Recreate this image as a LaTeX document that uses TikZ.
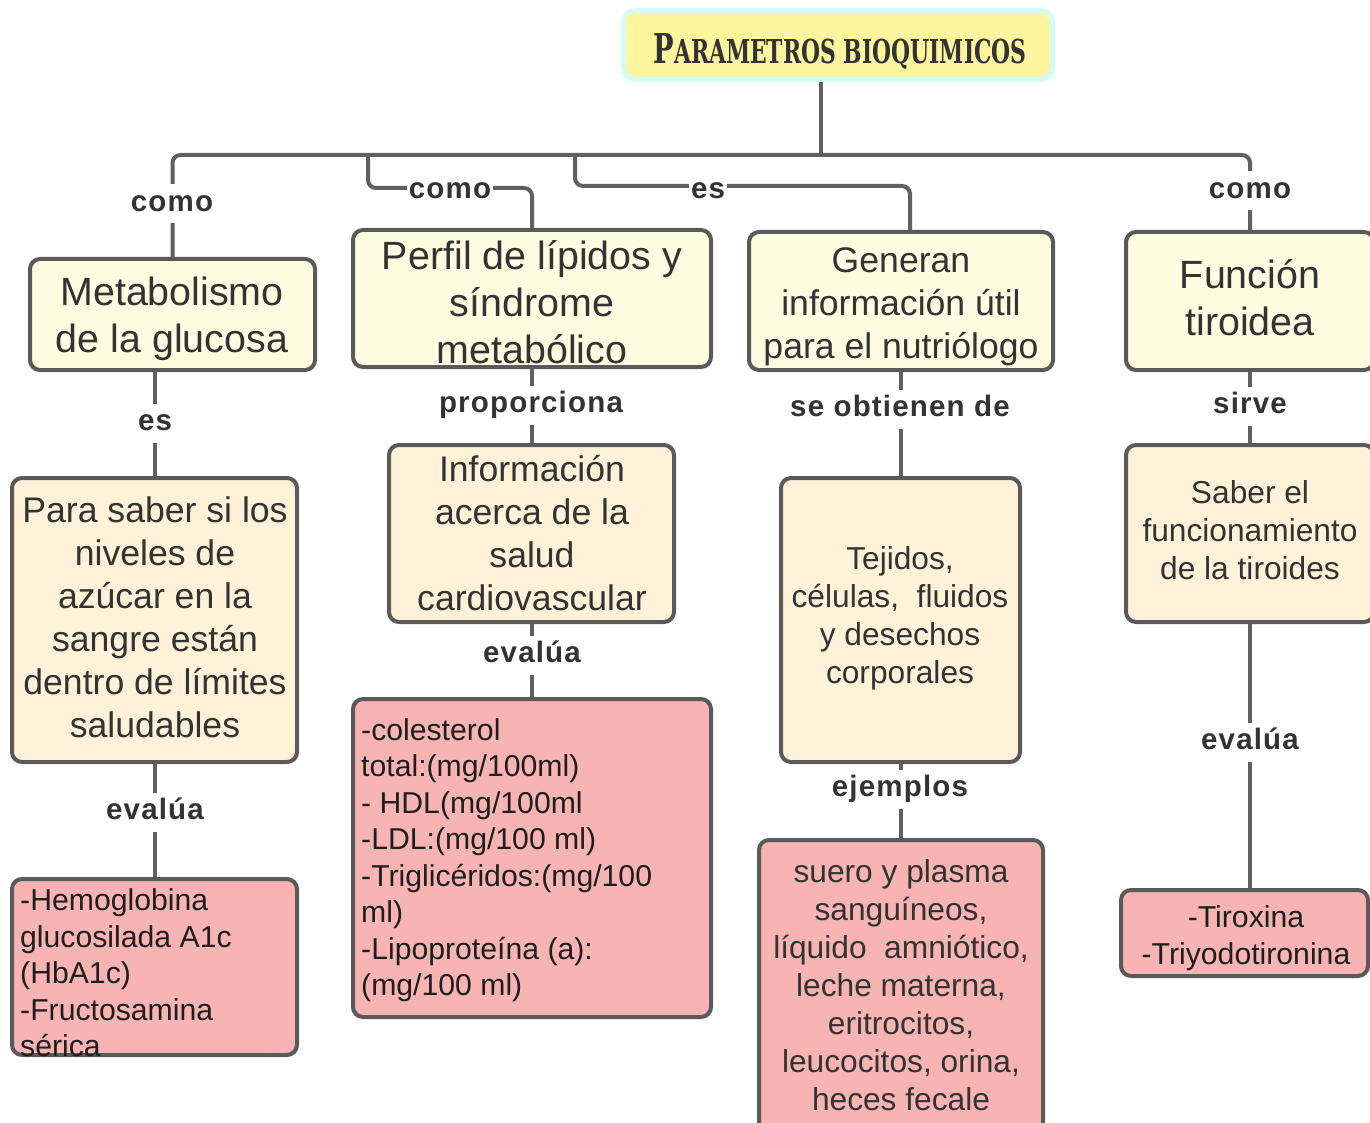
\documentclass[tikz,border=0pt]{standalone}
\usepackage{fontspec}
\usepackage{graphicx}
\setmainfont{Liberation Sans}
\newfontfamily\lblfont[LetterSpace=4]{Liberation Sans}
\newfontfamily\titlefont{DejaVu Serif}
\usetikzlibrary{calc}
\pgfdeclarelayer{bg}
\pgfsetlayers{bg,main}
\definecolor{bordc}{HTML}{5A5A5A}
\definecolor{connc}{HTML}{606060}
\definecolor{textc}{HTML}{333333}
\definecolor{pinktext}{HTML}{1E1E1E}
\definecolor{yel}{HTML}{FDFDE1}
\definecolor{cream}{HTML}{FFF2D8}
\definecolor{pink}{HTML}{F8B3B3}
\definecolor{ttlfill}{HTML}{FFF59E}
\definecolor{ttlbord}{HTML}{D5FBF4}
\newcommand\myfbig{\fontsize{39.4}{47}\selectfont}
\newcommand\myfmed{\fontsize{35.6}{43}\selectfont}
\newcommand\myfsm{\fontsize{31.7}{38}\selectfont}
\newcommand\myfpk{\fontsize{30.2}{36.5}\selectfont}
\tikzset{
  box/.style={draw=bordc, line width=4pt, rounded corners=10pt, inner sep=0pt},
  conn/.style={draw=connc, line width=4pt},
  txt/.style={align=center, inner sep=0pt, text=textc},
  ptxt/.style={align=left, inner sep=0pt, text=pinktext, anchor=west},
  lbl/.style={font=\lblfont\bfseries\fontsize{29.5}{29.5}\selectfont, text=textc, fill=white,
    text height=21pt, text depth=6pt, inner xsep=2pt, inner ysep=6pt}
}
\begin{document}
\begin{tikzpicture}[x=1pt,y=-1pt]
\useasboundingbox (0,0) rectangle (1370,1123);
\clip (0,0) rectangle (1370,1123);
% boxes
\node[box, draw=ttlbord, line width=5pt, fill=ttlfill, rounded corners=12pt, minimum width=429pt, minimum height=69pt] (title) at (838,45) {};
\node[box, fill=yel, minimum width=285pt, minimum height=111pt] (meta) at (172.5,314.5) {};
\node[box, fill=yel, minimum width=358pt, minimum height=137pt] (perfil) at (532,298.5) {};
\node[box, fill=yel, minimum width=304pt, minimum height=138pt] (generan) at (901,301) {};
\node[box, fill=yel, minimum width=248pt, minimum height=138pt] (funcion) at (1250,301) {};
\node[box, fill=cream, minimum width=285pt, minimum height=284pt] (para) at (154.5,620) {};
\node[box, fill=cream, minimum width=285pt, minimum height=177pt] (info) at (531.5,533.5) {};
\node[box, fill=cream, minimum width=239pt, minimum height=284pt] (tejidos) at (900.5,620) {};
\node[box, fill=cream, minimum width=248pt, minimum height=177pt] (saber) at (1250,533.5) {};
\node[box, fill=pink, minimum width=285pt, minimum height=176pt] (hemo) at (154.5,967) {};
\node[box, fill=pink, minimum width=358pt, minimum height=318pt] (coles) at (532,858) {};
\node[box, fill=pink, minimum width=284pt, minimum height=300pt] (suero) at (901,990) {};
\node[box, fill=pink, minimum width=247pt, minimum height=86pt] (tiro) at (1244.5,933) {};
% texts
\node[txt] (titleT) at (840,51) {\resizebox{373pt}{30pt}{\titlefont\bfseries\fontsize{30}{30}\selectfont P\fontsize{24}{24}\selectfont ARAMETROS BIOQUIMICOS}};
\node[txt, font=\myfbig] (metaT) at (172,319) {Metabolismo\\de la glucosa};
\node[txt, font=\myfbig] (perfilT) at (532,302) {Perfil de lípidos y\\síndrome\\metabólico};
\node[txt, font=\myfmed] (generanT) at (901,307) {Generan\\información útil\\para el nutriólogo};
\node[txt, font=\myfbig] (funcionT) at (1250,298) {Función\\tiroidea};
\node[txt, font=\myfmed] (paraT) at (155,617) {Para saber si los\\niveles de\\azúcar en la\\sangre están\\dentro de límites\\saludables};
\node[txt, font=\myfmed] (infoT) at (532,533) {Información\\acerca de la\\salud\\cardiovascular};
\node[txt, font=\myfsm] (tejidosT) at (900,618) {Tejidos,\\células,\ \ fluidos\\y desechos\\corporales};
\node[txt, font=\myfsm] (saberT) at (1250,530) {Saber el\\funcionamiento\\de la tiroides};
\node[ptxt, font=\myfpk] (hemoT) at (20,973) {-Hemoglobina\\glucosilada A1c\\(HbA1c)\\-Fructosamina\\sérica};
\node[ptxt, font=\myfpk] (colesT) at (361,860) {-colesterol\\total:(mg/100ml)\\- HDL(mg/100ml\\-LDL:(mg/100 ml)\\-Triglicéridos:(mg/100\\ml)\\-Lipoproteína (a):\\(mg/100 ml)};
\node[txt, font=\myfsm, text=textc] (sueroT) at (901,985) {suero y plasma\\sanguíneos,\\líquido\ \ amniótico,\\leche materna,\\eritrocitos,\\leucocitos, orina,\\heces fecale};
\node[txt, font=\myfpk, text=pinktext] (tiroT) at (1246,938) {-Tiroxina\\-Triyodotironina};
% connectors
\coordinate (hub) at (821,155);
\coordinate (b2) at (368,155);
\coordinate (b3) at (575,155);
\begin{pgfonlayer}{bg}
\draw[conn] (title.south -| hub) -- (hub);
\draw[conn, rounded corners=8pt] (meta.north) |- (hub) -| (funcion.north);
\draw[conn, rounded corners=8pt] (perfil.north) -- (perfil.north |- 0,188) -| (b2);
\draw[conn, rounded corners=8pt] ($(generan.north)+(9,0)$) -- ($(generan.north)+(9,-44)$) -| (b3);
\draw[conn] (para.north) -- (para.north |- meta.south);
\draw[conn] (info.north) -- (info.north |- perfil.south);
\draw[conn] (tejidos.north) -- (tejidos.north |- generan.south);
\draw[conn] (saber.north) -- (saber.north |- funcion.south);
\draw[conn] (hemo.north) -- (hemo.north |- para.south);
\draw[conn] (coles.north) -- (coles.north |- info.south);
\draw[conn] (suero.north) -- (suero.north |- tejidos.south);
\draw[conn] (saber.south) -- (saber.south |- tiro.north);
\end{pgfonlayer}
% labels
\node[lbl] (l1) at (172,204) {como};
\node[lbl] (l2) at (450,191) {como};
\node[lbl] (l3) at (708,191) {es};
\node[lbl] (l4) at (1250,191) {como};
\node[lbl] (l5) at (155,423) {es};
\node[lbl] (l6) at (531,405) {proporciona};
\node[lbl] (l7) at (900,409) {se obtienen de};
\node[lbl] (l8) at (1250,406) {sirve};
\node[lbl] (l9) at (155,812) {evalúa};
\node[lbl] (l10) at (532,655) {evalúa};
\node[lbl] (l11) at (900,789) {ejemplos};
\node[lbl] (l12) at (1250,742) {evalúa};
\end{tikzpicture}
\end{document}
